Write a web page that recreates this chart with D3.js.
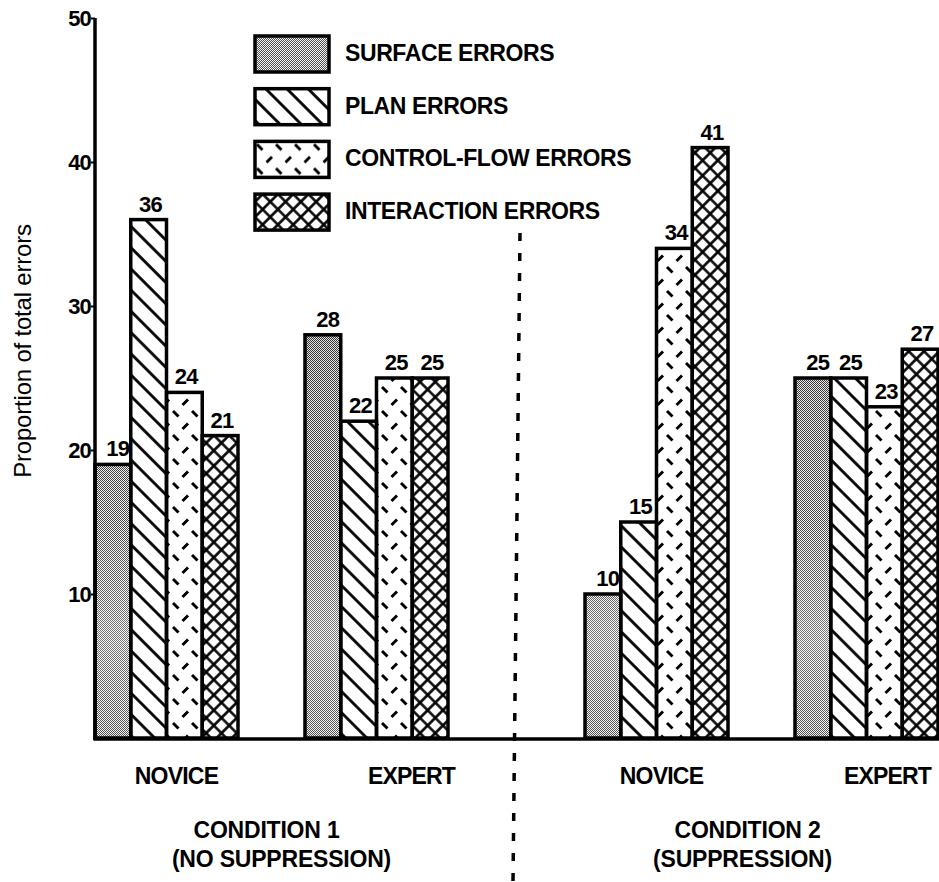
<!DOCTYPE html>
<html>
<head>
<meta charset="utf-8">
<script src="https://cdn.jsdelivr.net/npm/d3@7"></script>
<style>
  html, body { margin: 0; padding: 0; background: #fff; }
  svg { display: block; font-family: "Liberation Sans", Arial, Helvetica, sans-serif; }
</style>
</head>
<body>
<script>
// ---- data ----
const conditions = ["CONDITION 1", "CONDITION 2"];
const conditionNotes = ["(NO SUPPRESSION)", "(SUPPRESSION)"];
const levels = ["NOVICE", "EXPERT"];
const seriesNames = ["SURFACE ERRORS", "PLAN ERRORS", "CONTROL-FLOW ERRORS", "INTERACTION ERRORS"];
// values in order: C1 novice, C1 expert, C2 novice, C2 expert
const surfaceErrors     = [19, 28, 10, 25];
const planErrors        = [36, 22, 15, 25];
const controlFlowErrors = [24, 25, 34, 23];
const interactionErrors = [21, 25, 41, 27];
const yTickValues = [10, 20, 30, 40, 50];
const yTitle = "Proportion of total errors";

const seriesValues = [surfaceErrors, planErrors, controlFlowErrors, interactionErrors];
const patternIds = ["pSurface", "pPlan", "pControl", "pInter"];

const W = 939, H = 882;
const svg = d3.select("body").append("svg").attr("width", W).attr("height", H);
svg.append("rect").attr("width", W).attr("height", H).attr("fill", "#fff");

// ---- patterns ----
const defs = svg.append("defs");
const pS = defs.append("pattern").attr("id", "pSurface").attr("patternUnits", "userSpaceOnUse")
  .attr("width", 2).attr("height", 2);
pS.append("rect").attr("width", 2).attr("height", 2).attr("fill", "#f6f6f6");
pS.append("rect").attr("x", 0).attr("y", 0).attr("width", 1).attr("height", 1).attr("fill", "#3a3a3a");
pS.append("rect").attr("x", 1).attr("y", 1).attr("width", 1).attr("height", 1).attr("fill", "#3a3a3a");

const shade = defs.append("linearGradient").attr("id", "surfShade").attr("gradientUnits", "userSpaceOnUse")
  .attr("x1", 0).attr("x2", 0).attr("y1", 18).attr("y2", 738);
[[0, "#000", 0.12], [0.45, "#000", 0.08], [0.7, "#fff", 0.05], [0.86, "#fff", 0.3], [1, "#fff", 0.1]]
  .forEach(([o, c, a]) => shade.append("stop").attr("offset", o).attr("stop-color", c).attr("stop-opacity", a));

const pP = defs.append("pattern").attr("id", "pPlan").attr("patternUnits", "userSpaceOnUse")
  .attr("width", 15).attr("height", 15).attr("patternTransform", "rotate(-45)");
pP.append("rect").attr("width", 15).attr("height", 15).attr("fill", "#fff");
pP.append("line").attr("x1", 7.5).attr("x2", 7.5).attr("y1", 0).attr("y2", 15)
  .attr("stroke", "#000").attr("stroke-width", 2.8);

const pC = defs.append("pattern").attr("id", "pControl").attr("patternUnits", "userSpaceOnUse")
  .attr("width", 19).attr("height", 24);
pC.append("rect").attr("width", 19).attr("height", 24).attr("fill", "#fff");
pC.append("path").attr("d", "M2,3 L7.5,8.5 M11.5,21 L17,15.5")
  .attr("stroke", "#000").attr("stroke-width", 2.9).attr("fill", "none");

const pI = defs.append("pattern").attr("id", "pInter").attr("patternUnits", "userSpaceOnUse")
  .attr("width", 10.8).attr("height", 10.8).attr("patternTransform", "rotate(45)");
pI.append("rect").attr("width", 10.8).attr("height", 10.8).attr("fill", "#fff");
pI.append("path").attr("d", "M5.4,0 V10.8 M0,5.4 H10.8")
  .attr("stroke", "#000").attr("stroke-width", 2.6).attr("fill", "none");

// ---- scales ----
const x0 = 95, xEnd = 938, yBase = 738, yTop = 18;
const y = d3.scaleLinear().domain([0, 50]).range([yBase, yTop]);
const xCond = d3.scaleBand().domain(conditions).range([x0, xEnd]).paddingInner(0.2796).paddingOuter(0);
const xLevel = d3.scaleBand().domain(levels).range([0, xCond.bandwidth()]).paddingInner(0.319).paddingOuter(0);
const xSeries = d3.scaleBand().domain(seriesNames).range([0, xLevel.bandwidth()]).padding(0);

// build records
const records = [];
conditions.forEach((c, ci) => levels.forEach((l, li) => {
  const idx = ci * 2 + li;
  seriesNames.forEach((s, si) => records.push({ c, l, s, si, v: seriesValues[si][idx] }));
}));
const bx = d => xCond(d.c) + xLevel(d.l) + xSeries(d.s);

// ---- bars ----
const bars = svg.append("g");
bars.selectAll("rect.bar").data(records).join("rect").attr("class", "bar")
  .attr("x", bx).attr("y", d => y(d.v))
  .attr("width", xSeries.bandwidth()).attr("height", d => yBase - y(d.v))
  .attr("fill", d => `url(#${patternIds[d.si]})`);
bars.selectAll("rect.shade").data(records.filter(d => d.si === 0)).join("rect").attr("class", "shade")
  .attr("x", bx).attr("y", d => y(d.v))
  .attr("width", xSeries.bandwidth()).attr("height", d => yBase - y(d.v))
  .attr("fill", "url(#surfShade)");
bars.selectAll("rect.outline").data(records).join("rect").attr("class", "outline")
  .attr("x", bx).attr("y", d => y(d.v))
  .attr("width", xSeries.bandwidth()).attr("height", d => yBase - y(d.v))
  .attr("fill", "none").attr("stroke", "#000").attr("stroke-width", 3.5);

// value labels
svg.append("g").selectAll("text").data(records).join("text")
  .attr("x", d => bx(d) + xSeries.bandwidth() / 2 + (d.si === 0 ? 5 : 2))
  .attr("y", d => y(d.v) - 8)
  .attr("text-anchor", "middle").attr("font-size", 22).attr("font-weight", "bold")
  .attr("letter-spacing", -0.5)
  .text(d => d.v);

// ---- axes ----
const yAxis = d3.axisLeft(y).tickValues(yTickValues).tickSize(4).tickPadding(0);
const gy = svg.append("g").attr("transform", `translate(${x0},0)`).call(yAxis);
gy.select(".domain").remove();
gy.selectAll(".tick line").attr("stroke", "#000").attr("stroke-width", 2);
gy.selectAll(".tick text").attr("font-size", 22).attr("font-weight", "bold")
  .attr("font-family", "Liberation Sans, Arial, sans-serif").attr("fill", "#000")
  .attr("letter-spacing", -0.8).attr("dy", "0.36em");
svg.append("line").attr("x1", x0).attr("x2", x0).attr("y1", y(50)).attr("y2", yBase + 2)
  .attr("stroke", "#000").attr("stroke-width", 3.5);
svg.append("line").attr("x1", x0 - 1.5).attr("x2", W).attr("y1", yBase + 1).attr("y2", yBase + 1)
  .attr("stroke", "#000").attr("stroke-width", 3.5);

// y title
svg.append("text").attr("transform", `translate(31,${(y(50) + yBase) / 2 - 27}) rotate(-90)`)
  .attr("text-anchor", "middle").attr("font-size", 24).attr("letter-spacing", -0.2).text(yTitle);

// level labels
const levelNudge = [[10, 35], [5, 21]];
conditions.forEach((c, ci) => levels.forEach((l, li) => {
  svg.append("text")
    .attr("x", xCond(c) + xLevel(l) + xLevel.bandwidth() / 2 + levelNudge[ci][li])
    .attr("y", yBase + 46)
    .attr("text-anchor", "middle").attr("font-size", 23).attr("font-weight", "bold")
    .attr("letter-spacing", -0.8).text(l);
}));

// condition labels
const condNudge = [[-5, 10], [-14, -19]];
conditions.forEach((c, ci) => {
  const cx = xCond(c) + xCond.bandwidth() / 2;
  svg.append("text").attr("x", cx + condNudge[ci][0]).attr("y", yBase + 100)
    .attr("text-anchor", "middle").attr("font-size", 23).attr("font-weight", "bold")
    .attr("letter-spacing", -0.2).text(c);
  svg.append("text").attr("x", cx + condNudge[ci][1]).attr("y", yBase + 129)
    .attr("text-anchor", "middle").attr("font-size", 23).attr("font-weight", "bold")
    .attr("letter-spacing", -0.2).text(conditionNotes[ci]);
});

// divider
const xDiv = (xCond(conditions[0]) + xCond.bandwidth() + xCond(conditions[1])) / 2;
svg.append("line").attr("x1", xDiv + 3.5).attr("y1", 233).attr("x2", xDiv - 3.5).attr("y2", H)
  .attr("stroke", "#000").attr("stroke-width", 3.5).attr("stroke-dasharray", "8,12");

// ---- legend ----
const legend = svg.append("g").attr("transform", "translate(255,36)");
const li = legend.selectAll("g").data(seriesNames).join("g")
  .attr("transform", (d, i) => `translate(0,${i * 52.7})`);
li.append("rect").attr("width", 74).attr("height", 36).attr("fill", (d, i) => `url(#${patternIds[i]})`);
li.filter((d, i) => i === 0).append("rect").attr("width", 74).attr("height", 36).attr("fill", "#fff").attr("opacity", 0.1);
li.append("rect").attr("width", 74).attr("height", 36).attr("fill", "none").attr("stroke", "#000").attr("stroke-width", 3.5);
li.append("text").attr("x", 90).attr("y", 25).attr("font-size", 23).attr("font-weight", "bold")
  .attr("letter-spacing", -0.4).text(d => d);
</script>
</body>
</html>
